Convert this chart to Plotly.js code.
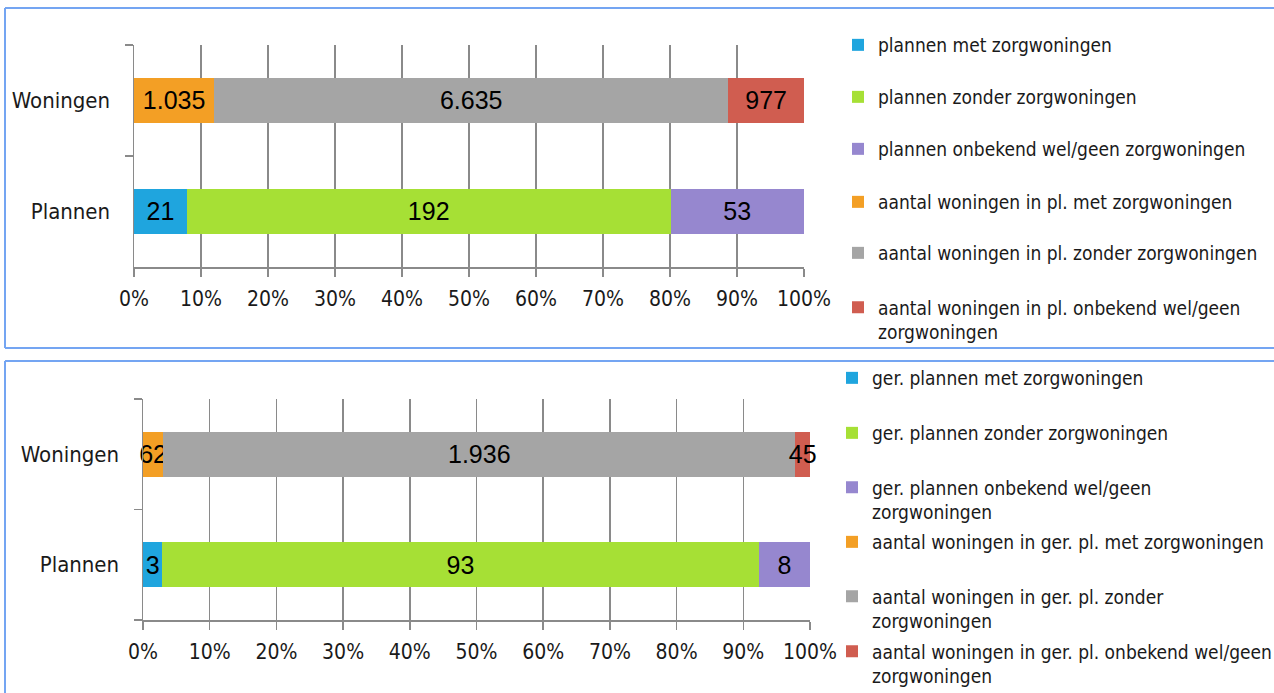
<!DOCTYPE html>
<html>
<head>
<meta charset="utf-8">
<script src="https://cdn.plot.ly/plotly-3.0.1.min.js"></script>
<style>
  html, body { margin: 0; padding: 0; background: #ffffff; }
  #chart { width: 1274px; height: 693px; }
</style>
</head>
<body>
<div id="chart"></div>
<script>
// ---------- data ----------
const categories = ['Plannen', 'Woningen'];

const topPlanNames = [
  'plannen met zorgwoningen',
  'plannen zonder zorgwoningen',
  'plannen onbekend wel/geen zorgwoningen'
];
const topWoningNames = [
  'aantal woningen in pl. met zorgwoningen',
  'aantal woningen in pl. zonder zorgwoningen',
  'aantal woningen in pl. onbekend wel/geen<br>zorgwoningen'
];
const topPlanValues = [21, 192, 53];
const topWoningValues = [1035, 6635, 977];

const bottomPlanNames = [
  'ger. plannen met zorgwoningen',
  'ger. plannen zonder zorgwoningen',
  'ger. plannen onbekend wel/geen<br>zorgwoningen'
];
const bottomWoningNames = [
  'aantal woningen in ger. pl. met zorgwoningen',
  'aantal woningen in ger. pl. zonder<br>zorgwoningen',
  'aantal woningen in ger. pl. onbekend wel/geen<br>zorgwoningen'
];
const bottomPlanValues = [3, 93, 8];
const bottomWoningValues = [62, 1936, 45];

const xTickValues = [0, 10, 20, 30, 40, 50, 60, 70, 80, 90, 100];
const xTickLabels = ['0%', '10%', '20%', '30%', '40%', '50%', '60%', '70%', '80%', '90%', '100%'];

const planColors = ['#1fa5de', '#a6e035', '#9687cf'];
const woningColors = ['#f39f25', '#a5a5a5', '#d05d50'];

// ---------- helpers ----------
const W = 1274, H = 693;
const px = v => v / W;
const py = v => 1 - v / H;
const NARROW = '"Liberation Sans Narrow", "DejaVu Sans Condensed", "Arial Narrow", sans-serif';
const REG = '"Liberation Sans", Arial, sans-serif';
const GRID = '#8a8a8a';

function fmt(v) {
  return String(v).replace(/\B(?=(\d{3})+(?!\d))/g, '.');
}

const traces = [];
let legendIdx = 0;
const legends = {};

function legendKey(i) { return i === 0 ? 'legend' : 'legend' + (i + 1); }

function addPanel(xa, ya, planNames, planVals, woningNames, woningVals, legendLeft, legendCenters) {
  const groups = [
    { cat: categories[0], names: planNames, vals: planVals, colors: planColors },
    { cat: categories[1], names: woningNames, vals: woningVals, colors: woningColors }
  ];
  let k = 0;
  groups.forEach(g => {
    g.names.forEach((nm, i) => {
      const key = legendKey(legendIdx);
      const lines = nm.split('<br>').length;
      traces.push({
        type: 'bar',
        orientation: 'h',
        xaxis: xa, yaxis: ya,
        y: [g.cat],
        x: [g.vals[i]],
        name: nm,
        text: [fmt(g.vals[i])],
        textposition: 'inside',
        insidetextanchor: 'middle',
        textangle: 0,
        constraintext: 'none',
        cliponaxis: false,
        textfont: { family: REG, size: 25, color: '#000000' },
        marker: { color: g.colors[i], line: { width: 0 } },
        width: 0.41,
        legend: key,
        hoverinfo: 'skip'
      });
      legends[key] = {
        x: legendLeft,
        y: py(legendCenters[k] + (lines - 1) * 13),
        xanchor: 'left',
        yanchor: 'middle',
        valign: 'top',
        bgcolor: 'rgba(0,0,0,0)',
        borderwidth: 0,
        font: { family: NARROW, size: 19, color: '#1a1a1a' },
        itemclick: false,
        itemdoubleclick: false
      };
      legendIdx++;
      k++;
    });
  });
}

addPanel('x', 'y', topPlanNames, topPlanValues, topWoningNames, topWoningValues,
  px(878 - 40), [45, 97, 149, 202, 253, 307]);
addPanel('x2', 'y2', bottomPlanNames, bottomPlanValues, bottomWoningNames, bottomWoningValues,
  px(872 - 40), [378, 433, 487, 542, 596, 651]);

function xAxis(domain, anchor) {
  return {
    domain: domain, anchor: anchor,
    range: [0, 100.001], fixedrange: true,
    tickmode: 'array', tickvals: xTickValues, ticktext: xTickLabels,
    showgrid: true, gridcolor: GRID, gridwidth: 1.5,
    ticks: 'outside', ticklen: 8, tickwidth: 1.5, tickcolor: GRID,
    showline: true, linecolor: GRID, linewidth: 1.5,
    zeroline: false,
    automargin: false,
    ticklabelstandoff: 4,
    tickfont: { family: NARROW, size: 21, color: '#1a1a1a' }
  };
}
function yAxis(domain, anchor) {
  return {
    domain: domain, anchor: anchor,
    type: 'category', categoryorder: 'array', categoryarray: categories,
    range: [-0.5, 1.5], fixedrange: true,
    showgrid: false, zeroline: false,
    ticks: 'outside', tickson: 'boundaries', ticklen: 8, tickwidth: 1.5, tickcolor: GRID,
    showline: true, linecolor: GRID, linewidth: 1.5,
    automargin: false,
    ticklabelstandoff: 18,
    tickfont: { family: NARROW, size: 22, color: '#1a1a1a' }
  };
}

const frameColor = '#74a5f2';
const shapes = [
  // top panel frame
  { type: 'line', xref: 'paper', yref: 'paper', x0: px(5), x1: px(5), y0: py(8), y1: py(348), line: { color: frameColor, width: 2 } },
  { type: 'line', xref: 'paper', yref: 'paper', x0: px(5), x1: 1.01, y0: py(8), y1: py(8), line: { color: frameColor, width: 2 } },
  { type: 'line', xref: 'paper', yref: 'paper', x0: px(5), x1: 1.01, y0: py(348), y1: py(348), line: { color: frameColor, width: 2 } },
  // bottom panel frame
  { type: 'line', xref: 'paper', yref: 'paper', x0: px(5), x1: px(5), y0: py(361), y1: -0.01, line: { color: frameColor, width: 2 } },
  { type: 'line', xref: 'paper', yref: 'paper', x0: px(5), x1: 1.01, y0: py(361), y1: py(361), line: { color: frameColor, width: 2 } }
];

const layout = Object.assign({
  width: W, height: H,
  margin: { l: 0, r: 0, t: 0, b: 0, pad: 0, autoexpand: false },
  paper_bgcolor: '#ffffff', plot_bgcolor: 'rgba(0,0,0,0)',
  barmode: 'stack', barnorm: 'percent',
  showlegend: true,
  hovermode: false,
  xaxis: xAxis([px(134), px(804)], 'y'),
  yaxis: yAxis([py(267), py(45)], 'x'),
  xaxis2: xAxis([px(143), px(810)], 'y2'),
  yaxis2: yAxis([py(620), py(399)], 'x2'),
  shapes: shapes
}, legends);

Plotly.newPlot('chart', traces, layout, { staticPlot: true, displayModeBar: false });
</script>
</body>
</html>
